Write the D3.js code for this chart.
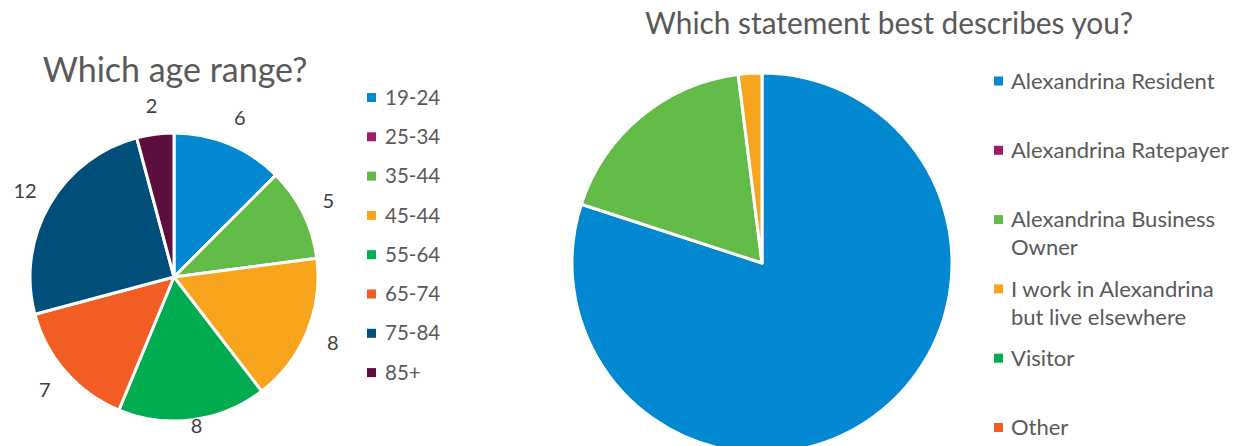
<!DOCTYPE html>
<html lang="en">
<head>
    <meta charset="UTF-8">
    <title>Survey pies</title>
    <script src="https://d3js.org/d3.v7.min.js"></script>
    <style>
        body { margin: 0; background: #fff; }
        svg { display: block; font-family: Lato, "Open Sans", sans-serif; }
        .title { fill: #595959; }
        .legend text { fill: #595959; }
        .label { fill: #404040; font-size: 20px; }
    </style>
</head>
<body>
<div class="viz"></div>
<script>
    // age range pie
    const ageLabels = ["19-24", "25-34", "35-44", "45-44", "55-64", "65-74", "75-84", "85+"];
    const ageValues = [6, 0, 5, 8, 8, 7, 12, 2];
    const ageColors = ["#0288D1", "#9E1A6A", "#62BB47", "#F8A51D", "#00AC4F", "#F15D22", "#004F7A", "#5C0F3E"];

    // statement pie
    const statLabels = [
        ["Alexandrina Resident"],
        ["Alexandrina Ratepayer"],
        ["Alexandrina Business", "Owner"],
        ["I work in Alexandrina", "but live elsewhere"],
        ["Visitor"],
        ["Other"]
    ];
    const statValues = [40, 0, 9, 1, 0, 0];
    const statColors = ["#0288D1", "#9E1A6A", "#62BB47", "#F8A51D", "#00AC4F", "#F15D22"];

    const width = 1240, height = 446;

    const svg = d3.select('.viz').append('svg')
        .attr('width', width)
        .attr('height', height);

    const pie = d3.pie().sort(null).value(d => d);

    function drawPie(values, colors, cx, cy, r) {
        const arc = d3.arc().innerRadius(0).outerRadius(r);
        const g = svg.append('g').attr('transform', `translate(${cx},${cy})`);
        const arcs = pie(values);
        g.selectAll('path')
            .data(arcs.filter(d => d.value > 0))
            .enter().append('path')
            .attr('d', arc)
            .attr('fill', d => colors[d.index])
            .attr('stroke', '#fff')
            .attr('stroke-width', 3)
            .attr('stroke-linejoin', 'round');
        return {g, arcs};
    }

    // left pie
    const left = drawPie(ageValues, ageColors, 174, 277, 144);
    const labelArc = d3.arc().innerRadius(172).outerRadius(172);
    left.g.selectAll('text')
        .data(left.arcs.filter(d => d.value > 0))
        .enter().append('text')
        .attr('class', 'label')
        .attr('text-anchor', 'middle')
        .attr('dy', '0.35em')
        .attr('x', d => labelArc.centroid(d)[0])
        .attr('y', d => Math.min(labelArc.centroid(d)[1], height - 20 - 277))
        .text(d => d.value);

    svg.append('text').attr('class', 'title')
        .attr('x', 175).attr('y', 82)
        .attr('text-anchor', 'middle')
        .style('font-size', '34px')
        .text('Which age range?');

    const legL = svg.append('g').attr('class', 'legend').style('font-size', '20.5px');
    ageLabels.forEach((lab, i) => {
        const y = 97.5 + i * 39.3;
        legL.append('rect').attr('x', 367).attr('y', y - 4.5).attr('width', 9).attr('height', 9)
            .attr('fill', ageColors[i]);
        legL.append('text').attr('x', 385).attr('y', y).attr('dy', '0.35em').text(lab);
    });

    // right pie
    drawPie(statValues, statColors, 762, 263, 190);

    svg.append('text').attr('class', 'title')
        .attr('x', 645).attr('y', 34)
        .style('font-size', '31px')
        .attr('textLength', 488)
        .attr('lengthAdjust', 'spacingAndGlyphs')
        .text('Which statement best describes you?');

    const legR = svg.append('g').attr('class', 'legend').style('font-size', '22px');
    statLabels.forEach((lines, i) => {
        const y = 81 + i * 69.3;
        legR.append('rect').attr('x', 994).attr('y', y - 4.5).attr('width', 9).attr('height', 9)
            .attr('fill', statColors[i]);
        const t = legR.append('text').attr('x', 1011).attr('y', y);
        lines.forEach((ln, j) => {
            t.append('tspan').attr('x', 1011).attr('dy', j === 0 ? '0.35em' : 28).text(ln);
        });
    });
</script>
</body>
</html>
